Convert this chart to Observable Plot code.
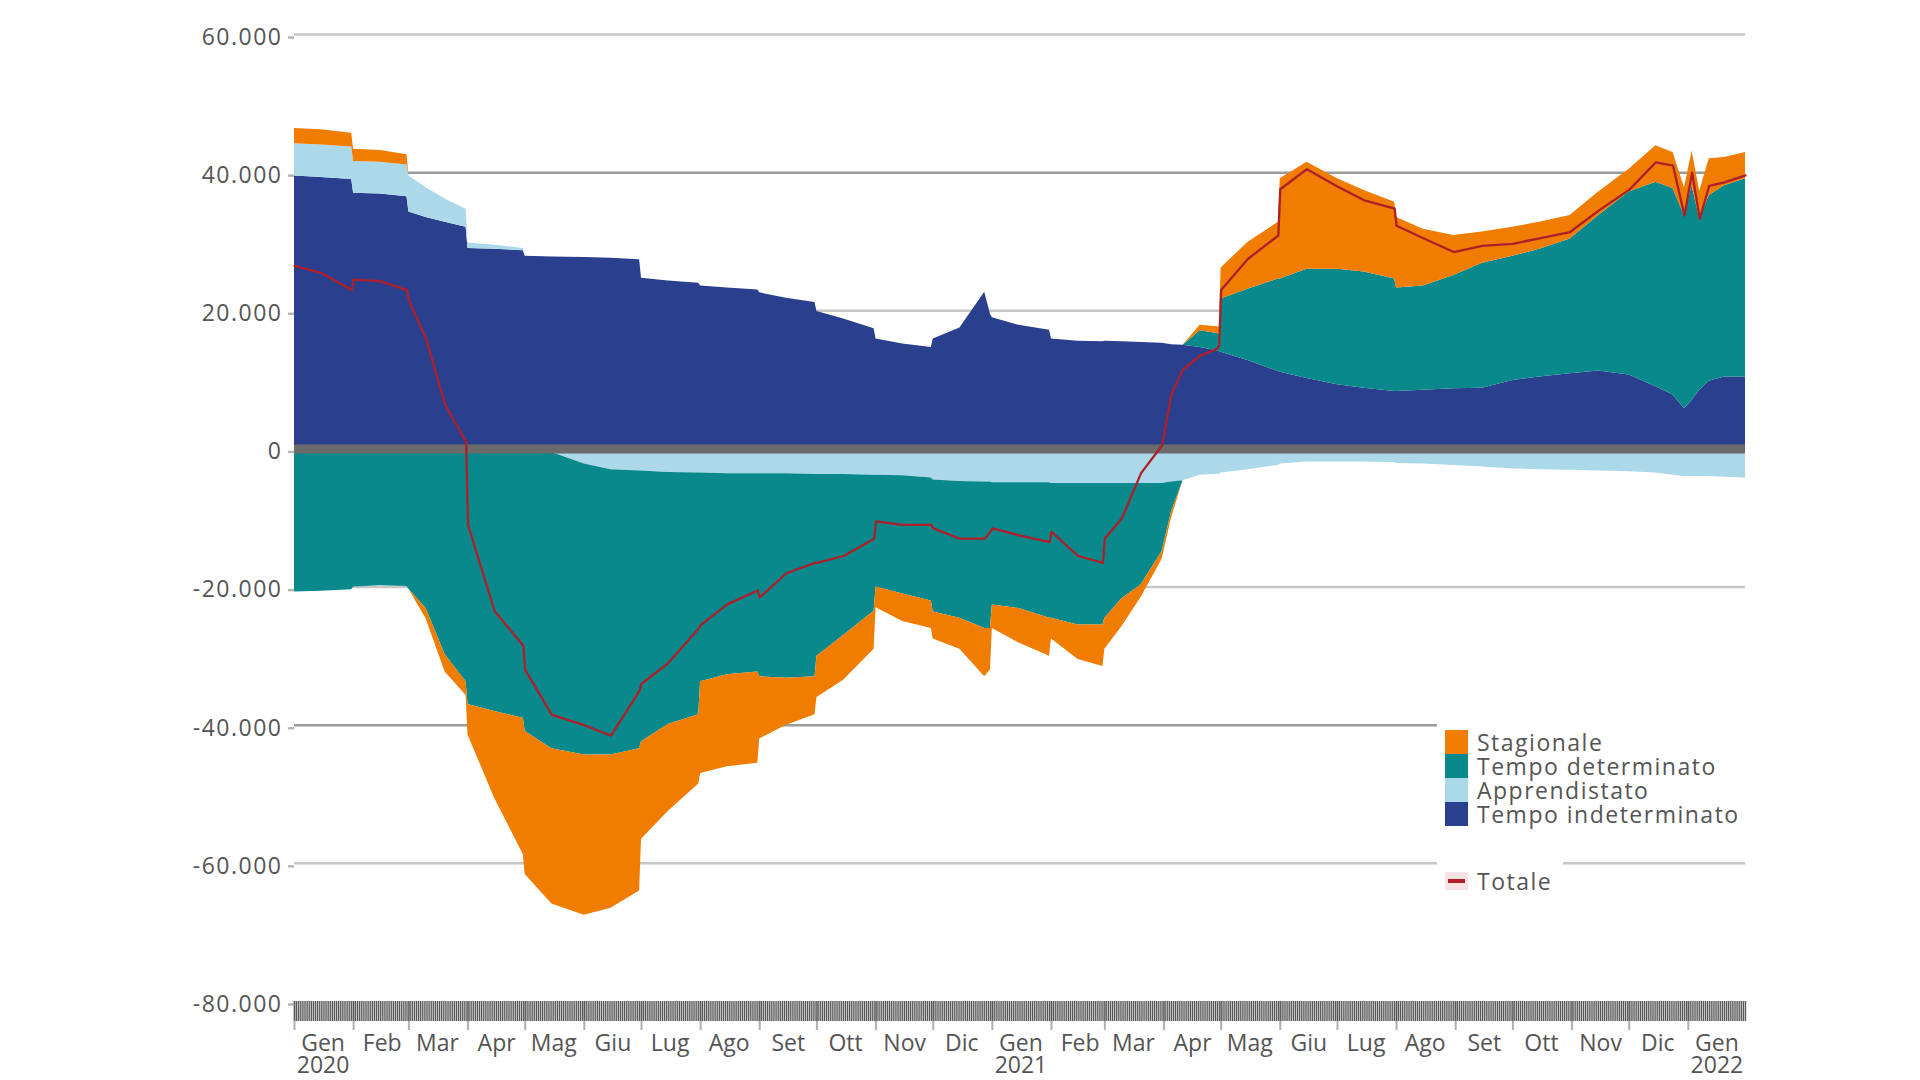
<!DOCTYPE html>
<html><head><meta charset="utf-8">
<script src="https://cdn.jsdelivr.net/npm/d3@7"></script>
<script src="https://cdn.jsdelivr.net/npm/@observablehq/plot@0.6"></script>
<style>
html,body{margin:0;padding:0;background:#fff;}
#wrap{position:relative;width:1920px;height:1080px;overflow:hidden;font-family:"Open Sans",sans-serif;}
#wrap svg{display:block;}
.lg{position:absolute;background:#fff;color:#555;font-size:23px;line-height:24px;letter-spacing:1.5px;}
.row{position:relative;height:24px;padding-left:40px;white-space:nowrap;}
.sw{position:absolute;left:8px;top:0;width:23px;height:24px;}
.tot{position:absolute;left:8px;top:3px;width:23px;height:18px;background:#f8e3e3;}
.tot i{position:absolute;left:3px;right:3px;top:7px;height:4px;background:#b3202b;}
</style></head><body><div id="wrap"></div>
<script>
const dates = [
"2020-01-01","2020-01-15","2020-01-31","2020-02-01","2020-02-15","2020-02-29",
"2020-03-01","2020-03-10","2020-03-20","2020-03-31","2020-04-01","2020-04-15",
"2020-04-30","2020-05-01","2020-05-15","2020-06-01","2020-06-15","2020-06-30",
"2020-07-01","2020-07-15","2020-07-31","2020-08-01","2020-08-15","2020-08-31",
"2020-09-01","2020-09-15","2020-09-30","2020-10-01","2020-10-15","2020-10-31",
"2020-11-01","2020-11-15","2020-11-30","2020-12-01","2020-12-15","2020-12-28",
"2020-12-31","2021-01-01","2021-01-15","2021-01-31","2021-02-01","2021-02-15",
"2021-02-28","2021-03-01","2021-03-10","2021-03-20","2021-03-31","2021-04-05",
"2021-04-11","2021-04-20","2021-04-29","2021-04-30","2021-05-01","2021-05-15",
"2021-05-31","2021-06-01","2021-06-15","2021-07-01","2021-07-15","2021-07-31",
"2021-08-01","2021-08-15","2021-08-31","2021-09-15","2021-10-01","2021-10-15",
"2021-10-31","2021-11-15","2021-12-01","2021-12-15","2021-12-24","2021-12-30",
"2022-01-03","2022-01-07","2022-01-12","2022-01-20","2022-01-31"];

const tempoIndeterminato = [
39500,39300,39000,37000,36900,36500,
34300,33500,32800,32100,29000,28900,
28700,27900,27800,27700,27600,27400,
24700,24300,24000,23600,23300,23000,
22600,21800,21200,19900,18800,17400,
15900,15200,14700,15900,17500,22700,
19500,19000,17900,17200,15900,15600,
15500,15600,15500,15400,15300,15100,
15000,14700,14200,14100,14000,12800,
11200,11100,10200,9300,8800,8300,
8300,8500,8700,8800,9900,10400,
10900,11300,10700,9000,7800,5800,
7000,8500,9800,10400,10400];

const apprendistato = [
4700,4700,4700,4600,4600,4600,
5200,4300,3400,2600,800,600,
300,0,-500,-2200,-3000,-3200,
-3200,-3400,-3500,-3500,-3600,-3600,
-3600,-3600,-3700,-3700,-3700,-3800,
-3800,-3900,-4200,-4500,-4700,-4800,
-4800,-4900,-4900,-4900,-5000,-5000,
-5000,-5000,-5000,-5000,-5000,-4800,
-4600,-3800,-3700,-3700,-3500,-3000,
-2400,-2200,-1900,-1900,-1900,-2000,
-2100,-2200,-2400,-2600,-2900,-3000,
-3100,-3200,-3300,-3500,-3800,-4000,
-4000,-4000,-4000,-4100,-4200];

const tempoDeterminato = [
-20700,-20600,-20400,-20000,-19800,-19900,
-20300,-23100,-29800,-33700,-37000,-38000,
-39000,-40900,-42900,-42100,-41300,-40200,
-39200,-36500,-35000,-30200,-29100,-28700,
-29400,-29600,-29300,-26300,-23300,-19700,
-16200,-17100,-17800,-19100,-19800,-21200,
-21200,-17700,-18200,-19600,-19500,-20500,
-20500,-19500,-16700,-14700,-9900,-4300,
0,2400,2500,2500,7700,10300,
13400,13500,15800,16700,16800,16300,
15000,15100,16400,18100,18000,18500,
19500,22500,26500,29600,29900,28000,
31100,24800,26900,27700,28700];

const stagionale = [
2200,2200,2000,1800,1700,1500,
0,-1500,-2500,-2000,-4400,-12600,
-19700,-20700,-22500,-23200,-22200,-20600,
-14100,-12600,-10000,-13300,-13300,-13200,
-9000,-6800,-5500,-6000,-6500,-5500,
-3000,-4000,-4000,-3900,-4500,-7000,
-6000,-3400,-5000,-5500,-3000,-5000,
-6000,-4500,-4000,-1800,-1100,-900,
0,800,1000,1000,4500,6800,
8200,14500,15500,13100,11800,11100,
10200,8200,5800,4500,4200,3900,
3400,3400,3300,5300,5200,4000,
5000,4000,5300,4100,3800];

const totale = [
26500,25500,23000,24500,24300,23000,
21500,16000,6400,1000,-11000,-23500,
-28500,-32000,-38500,-40000,-41500,-35000,
-34000,-31000,-26000,-25500,-22500,-20500,
-21500,-18000,-16500,-16500,-15500,-13000,
-10500,-11000,-11000,-11500,-13000,-13000,
-12000,-11500,-12500,-13500,-12000,-15500,
-16500,-13000,-10000,-3500,500,8000,
11500,13500,14500,15000,23000,27500,
30900,37600,40500,38000,36000,34800,
32300,30500,28500,29400,29700,30500,
31400,34500,37500,41500,41000,33800,
40000,33300,38100,38600,39600];

const seriesNames = ["Tempo indeterminato","Apprendistato","Tempo determinato","Stagionale"];
const seriesColors = ["#2a3f8e","#abd9ea","#0a898c","#f07c00"];
const legendOrder = ["Stagionale","Tempo determinato","Apprendistato","Tempo indeterminato"];
const monthLabels = ["Gen","Feb","Mar","Apr","Mag","Giu","Lug","Ago","Set","Ott","Nov","Dic"];
const yTicks = [60000,40000,20000,0,-20000,-40000,-60000,-80000];
const gridLight = [60000,20000,-20000,-60000];
const gridDark = [40000,-40000];

const parse = d3.utcParse("%Y-%m-%d");
const start = parse("2020-01-01"), end = parse("2022-01-31");
const seriesValues = [tempoIndeterminato, apprendistato, tempoDeterminato, stagionale];

// diverging stack: positives piled up from zero, negatives piled down from zero
const stacked = [];
dates.forEach((d, i) => {
  const date = parse(d);
  let pos = 0, neg = 0;
  seriesNames.forEach((n, k) => {
    const v = seriesValues[k][i];
    if (v > 0) { stacked.push({date, series: n, part: n + "+", y1: pos, y2: pos + v}); pos += v; }
    else stacked.push({date, series: n, part: n + "+", y1: pos, y2: pos});
    if (v < 0) { stacked.push({date, series: n, part: n + "-", y1: neg, y2: neg + v}); neg += v; }
    else stacked.push({date, series: n, part: n + "-", y1: neg, y2: neg});
  });
});
const totalRows = dates.map((d, i) => ({date: parse(d), value: totale[i]}));
const fmt = v => d3.format(",")(v).replace(/,/g, ".").replace("\u2212", "-");
const days = d3.utcDay.range(start, d3.utcDay.offset(end, 1));
const months = d3.utcMonth.range(start, d3.utcDay.offset(end, 1));
const mids = months.map(m => d3.utcDay.offset(m, 15));

const plot = Plot.plot({
  width: 1920, height: 1080,
  marginLeft: 294, marginRight: 175, marginTop: 34, marginBottom: 79,
  style: {fontFamily: '"Open Sans", sans-serif', fontSize: "23px", color: "#555", background: "#fff"},
  x: {type: "utc", domain: [start, end], label: null},
  y: {domain: [-80000, 60000], label: null},
  color: {domain: seriesNames, range: seriesColors},
  marks: [
    Plot.ruleY(gridLight, {stroke: "#c6c6c6", strokeWidth: 2.5}),
    Plot.ruleY(gridDark, {stroke: "#9b9b9b", strokeWidth: 2.5}),
    Plot.areaY(stacked, {x: "date", y1: "y1", y2: "y2", z: "part", fill: "series"}),
    Plot.ruleY([0], {stroke: "#6b6b6b", strokeWidth: 9}),
    Plot.lineY(totalRows, {x: "date", y: "value", stroke: "#ad1f2a", strokeWidth: 2.3}),
    Plot.axisY({ticks: yTicks, tickSize: 6, tickPadding: 6, dy: 3, tickFormat: fmt, stroke: "#b5b5b5", strokeWidth: 2.5, fill: "#555", fontSize: 23, label: null}),
    Plot.axisX({ticks: months, tickSize: 29, tickFormat: () => "", stroke: "#b0b0b0", strokeWidth: 2, label: null}),
    Plot.axisX({ticks: days, tickSize: 20, tickFormat: () => "", stroke: "#585858", strokeWidth: 1.3, label: null}),
    Plot.axisX({ticks: mids, tickSize: 0, tickPadding: 33, fill: "#555", fontSize: 23, lineHeight: 0.98, label: null,
      tickFormat: d => monthLabels[d.getUTCMonth()] + (d.getUTCMonth() === 0 ? "\n" + d.getUTCFullYear() : "")})
  ]
});
const wrap = document.getElementById("wrap");
wrap.appendChild(plot);
d3.select(plot).selectAll('g[aria-label="y-axis tick label"] text').style("letter-spacing", "1.5px");

const lg1 = document.createElement("div");
lg1.className = "lg";
Object.assign(lg1.style, {left: "1437px", top: "720px", width: "308px", paddingTop: "10px", paddingBottom: "6px"});
legendOrder.forEach(n => {
  const r = document.createElement("div"); r.className = "row";
  const s = document.createElement("span"); s.className = "sw";
  s.style.background = seriesColors[seriesNames.indexOf(n)];
  r.appendChild(s); r.appendChild(document.createTextNode(n));
  lg1.appendChild(r);
});
wrap.appendChild(lg1);

const lg2 = document.createElement("div");
lg2.className = "lg";
Object.assign(lg2.style, {left: "1437px", top: "856px", width: "126px", paddingTop: "13px", paddingBottom: "9px"});
const r2 = document.createElement("div"); r2.className = "row";
const t2 = document.createElement("span"); t2.className = "tot"; t2.appendChild(document.createElement("i"));
r2.appendChild(t2); r2.appendChild(document.createTextNode("Totale"));
lg2.appendChild(r2);
wrap.appendChild(lg2);
</script>
</body></html>
